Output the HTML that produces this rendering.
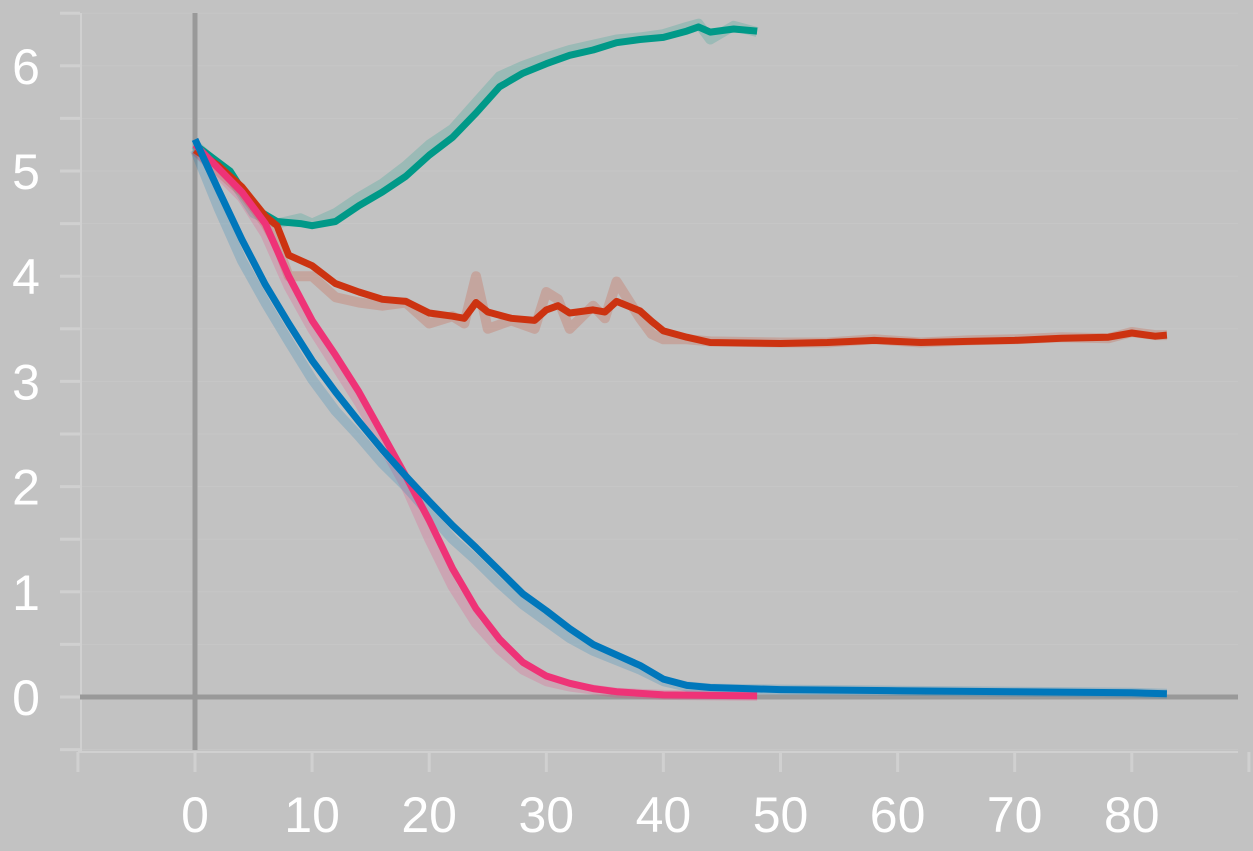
<!DOCTYPE html>
<html><head><meta charset="utf-8"><style>
html,body{margin:0;padding:0;background:#c2c2c2;}
svg{display:block;font-family:"Liberation Sans",sans-serif;}
</style></head><body>
<svg id="chart" width="1253" height="851" viewBox="0 0 1253 851" xmlns="http://www.w3.org/2000/svg">
<rect width="1253" height="851" fill="#c2c2c2"/>
<g id="grid"></g>
<g id="axes"></g>
<g id="raw"></g>
<g id="series"></g>
</svg>
<script>
const xTicks=[0,10,20,30,40,50,60,70,80];
const yTicks=[0,1,2,3,4,5,6];
const greenX=[0,3,5,7,9,10,12,14,16,18,20,22,24,26,28,30,32,34,36,38,40,42,43,44,46,48];
const greenY=[5.25,5.0,4.65,4.52,4.5,4.48,4.52,4.67,4.8,4.95,5.15,5.32,5.55,5.8,5.93,6.02,6.1,6.15,6.22,6.25,6.27,6.33,6.37,6.32,6.35,6.33];
const greenRawY=[5.25,4.95,4.6,4.5,4.55,4.5,4.6,4.75,4.88,5.05,5.25,5.4,5.65,5.9,6.0,6.08,6.15,6.2,6.25,6.27,6.3,6.37,6.4,6.25,6.38,6.32];
const redX=[0,2,4,6,7,8,10,12,14,16,18,20,22,23,24,25,27,29,30,31,32,34,35,36,38,39,40,42,44,50,54,58,62,66,70,74,78,80,82,83];
const redY=[5.2,5.05,4.85,4.57,4.48,4.2,4.1,3.93,3.85,3.78,3.76,3.65,3.62,3.6,3.75,3.66,3.6,3.58,3.68,3.72,3.65,3.68,3.66,3.76,3.67,3.57,3.48,3.42,3.37,3.36,3.37,3.39,3.37,3.38,3.39,3.41,3.42,3.46,3.43,3.44];
const redRawY=[5.2,5.0,4.8,4.5,4.3,4.0,4.0,3.8,3.75,3.72,3.75,3.55,3.62,3.55,4.0,3.5,3.58,3.5,3.85,3.78,3.5,3.72,3.6,3.95,3.6,3.45,3.4,3.4,3.38,3.37,3.37,3.4,3.37,3.39,3.4,3.42,3.41,3.47,3.44,3.44];
const pinkX=[0,4,6,8,10,12,14,16,18,20,22,24,26,28,30,32,34,36,40,48];
const pinkY=[5.25,4.8,4.5,4.0,3.58,3.25,2.9,2.5,2.1,1.68,1.22,0.84,0.55,0.33,0.2,0.13,0.08,0.05,0.02,0.01];
const pinkRawY=[5.2,4.75,4.4,3.9,3.5,3.15,2.8,2.4,2.0,1.5,1.05,0.7,0.45,0.26,0.15,0.1,0.07,0.04,0.02,0.01];
const blueX=[0,2,4,6,8,10,12,14,16,18,20,22,24,26,28,30,32,34,36,38,40,42,44,50,60,70,80,83];
const blueY=[5.3,4.82,4.35,3.92,3.55,3.2,2.9,2.62,2.35,2.1,1.86,1.63,1.42,1.2,0.98,0.82,0.65,0.5,0.4,0.3,0.17,0.11,0.09,0.07,0.06,0.05,0.04,0.03];
const blueRawY=[5.2,4.65,4.15,3.75,3.38,3.02,2.72,2.48,2.22,2.0,1.75,1.5,1.3,1.08,0.88,0.72,0.56,0.44,0.35,0.26,0.15,0.1,0.08,0.07,0.06,0.05,0.04,0.03];

const NS="http://www.w3.org/2000/svg";
const sx=v=>195+v*11.71;
const sy=v=>697-v*105.2;
function el(tag,attrs,parent){const e=document.createElementNS(NS,tag);for(const k in attrs)e.setAttribute(k,attrs[k]);parent.appendChild(e);return e;}
const grid=document.getElementById('grid'),axes=document.getElementById('axes');
for(let v=-0.5;v<=6.5;v+=0.5){
  const g=el('line',{x1:82,x2:1238,y1:sy(v),y2:sy(v),stroke:'#c6c6c6','stroke-width':1},grid);
  
  
  const t=el('line',{x1:60,x2:80,y1:sy(v),y2:sy(v),stroke:'#d0d0d0','stroke-width':3},axes);
  
  
}
for(let v=-10;v<=90;v+=10){
  const t=el('line',{x1:sx(v),x2:sx(v),y1:752,y2:772,stroke:'#d0d0d0','stroke-width':3},axes);
  
  
}
let sp=el('line',{x1:81,x2:81,y1:13,y2:752,stroke:'#d0d0d0','stroke-width':2},axes);


sp=el('line',{x1:78,x2:1238,y1:752,y2:752,stroke:'#d0d0d0','stroke-width':2},axes);


let z=el('line',{x1:sx(0),x2:sx(0),y1:13,y2:750,stroke:'#999','stroke-width':5},axes);


z=el('line',{x1:80,x2:1238,y1:sy(0),y2:sy(0),stroke:'#999','stroke-width':5},axes);


yTicks.forEach(v=>{const t=el('text',{x:26,y:sy(v)+18,'font-size':50,fill:'#fff','text-anchor':'middle'},axes);t.textContent=v;
  
  });
xTicks.forEach(v=>{const t=el('text',{x:sx(v),y:832,'font-size':50,fill:'#fff','text-anchor':'middle'},axes);t.textContent=v;
  
  });
function pts(xs,ys){return xs.map((x,i)=>sx(x).toFixed(1)+','+sy(ys[i]).toFixed(1)).join(' ');}
const raw=document.getElementById('raw'),ser=document.getElementById('series');
const defs=[['green',greenX,greenY,greenRawY,'#009988'],['red',redX,redY,redRawY,'#cc3311'],['pink',pinkX,pinkY,pinkRawY,'#ee3377'],['blue',blueX,blueY,blueRawY,'#0077bb']];
defs.forEach(([n,xs,ys,rs,c])=>{
  const r=el('polyline',{points:pts(xs,rs),fill:'none',stroke:c,'stroke-opacity':0.2,'stroke-width':10,'stroke-linejoin':'round'},raw);
  
  
});
defs.forEach(([n,xs,ys,rs,c])=>{
  const l=el('polyline',{points:pts(xs,ys),fill:'none',stroke:c,'stroke-width':7,'stroke-linejoin':'round'},ser);
  
  
});
</script>
</body></html>
